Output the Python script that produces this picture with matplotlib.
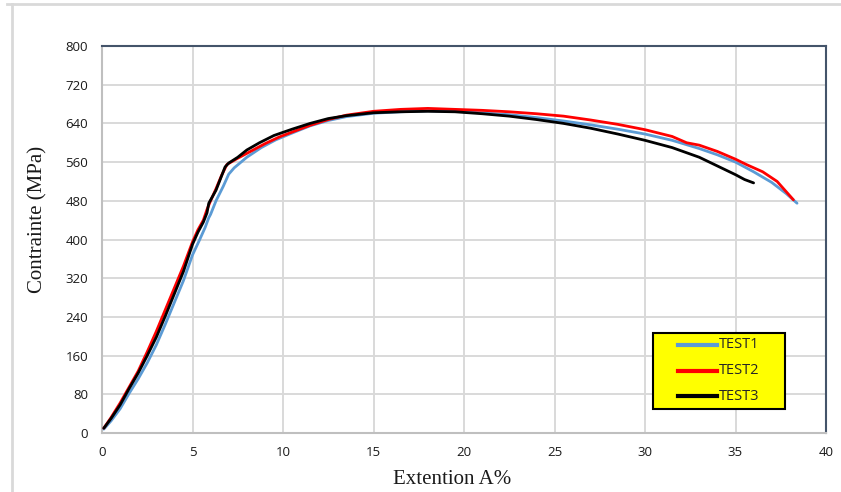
import matplotlib
matplotlib.use("Agg")
import matplotlib.pyplot as plt
from matplotlib.lines import Line2D
from matplotlib.patches import Rectangle

# ---- data ----
test1_x = [0.1, 0.5, 1.0, 1.5, 2.0, 2.5, 3.0, 3.5, 4.0, 4.5, 5.0, 5.4, 5.7, 5.9, 6.0, 6.3, 6.7, 7.0, 7.3,
           8.0, 8.8, 9.6, 10.5, 11.5, 12.5, 13.5, 15.0, 16.5, 18.0, 19.5, 21.0, 22.5, 24.0, 25.5, 27.0,
           28.5, 30.0, 31.5, 33.0, 34.0, 35.0, 36.0, 37.0, 37.8, 38.4]
test1_y = [8, 25, 50, 82, 112, 145, 182, 225, 270, 315, 368, 400, 425, 445, 452, 480, 510, 535, 548,
           570, 590, 606, 620, 635, 646, 654, 661, 664, 666, 665, 662, 658, 652, 645, 637,
           628, 618, 605, 588, 575, 560, 540, 518, 495, 475]

test2_x = [0.1, 0.5, 1.0, 1.5, 2.0, 2.5, 3.0, 3.5, 4.0, 4.5, 5.0, 5.3, 5.6, 5.8, 6.0, 6.3, 6.6, 6.9,
           7.5, 8.2, 9.0, 9.8, 10.5, 11.5, 12.5, 13.5, 15.0, 16.5, 18.0, 19.5, 21.0, 22.5, 24.0,
           25.5, 27.0, 28.5, 30.0, 31.5, 32.3, 33.0, 34.0, 35.0, 35.6, 36.5, 37.3, 38.2]
test2_y = [10, 32, 62, 95, 128, 168, 210, 255, 300, 345, 395, 420, 440, 462, 480, 505, 532, 555,
           568, 582, 598, 612, 622, 636, 648, 657, 665, 669, 671, 669, 667, 664, 660,
           655, 647, 638, 627, 613, 600, 595, 582, 566, 555, 540, 520, 482]

test3_x = [0.1, 0.5, 1.0, 1.5, 2.0, 2.5, 3.0, 3.5, 4.0, 4.5, 5.0, 5.3, 5.6, 5.8, 5.9, 6.3, 6.8, 7.0,
           7.5, 8.0, 8.7, 9.5, 10.5, 11.5, 12.5, 13.5, 15.0, 16.5, 18.0, 19.5, 21.0, 22.5, 24.0,
           25.5, 27.0, 28.5, 30.0, 31.5, 33.0, 34.0, 35.0, 35.5, 36.0]
test3_y = [10, 30, 58, 92, 124, 160, 198, 242, 288, 334, 390, 415, 436, 455, 475, 502, 550, 558,
           570, 585, 600, 615, 628, 640, 650, 656, 662, 664, 665, 664, 660, 655, 648,
           640, 630, 618, 605, 590, 570, 552, 534, 524, 517]

labels = ["TEST1", "TEST2", "TEST3"]
colors = ["#5b9bd5", "#ff0000", "#000000"]

x_ticks = [0, 5, 10, 15, 20, 25, 30, 35, 40]
y_ticks = [0, 80, 160, 240, 320, 400, 480, 560, 640, 720, 800]

# ---- figure ----
W, H = 841, 492
fig = plt.figure(figsize=(W / 100, H / 100), dpi=100)
ax = fig.add_axes([102 / W, 1 - 433 / H, (826 - 102) / W, (433 - 46) / H])

tick_font = "Open Sans"
series = [(test1_x, test1_y), (test2_x, test2_y), (test3_x, test3_y)]
for i, (xs, ys) in enumerate(series):
    ax.plot(xs, ys, color=colors[i], lw=2.0, label=labels[i], solid_capstyle="round", zorder=3 + i)

ax.set_xlim(0, 40)
ax.set_ylim(0, 800)
ax.set_xticks(x_ticks)
ax.set_yticks(y_ticks)
ax.grid(True, color="#d9d9d9", lw=1.4)
ax.set_axisbelow(True)
ax.tick_params(length=0, labelsize=9.5, colors="#1a1a1a")
ax.tick_params(axis="y", pad=10)
ax.tick_params(axis="x", pad=9)
for lab in ax.get_xticklabels() + ax.get_yticklabels():
    lab.set_fontfamily(tick_font)

for s in ["left", "bottom"]:
    ax.spines[s].set_color("#bfbfbf")
    ax.spines[s].set_linewidth(1.5)
for s in ["top", "right"]:
    ax.spines[s].set_color("#44546a")
    ax.spines[s].set_linewidth(1.5)

fig.text(452 / W, 1 - 480 / H, "Extention A%", fontfamily="Liberation Serif", fontsize=15,
         color="#1a1a1a", ha="center", va="center")
fig.text(38 / W, 1 - 219 / H, "Contrainte (MPa)", fontfamily="Liberation Serif", fontsize=15,
         color="#1a1a1a", ha="center", va="center", rotation=90)

# legend (manual, in axes coordinates)
def ax_x(px):
    return (px - 102) / 724

def ax_y(py):
    return (433 - py) / 387

ax.add_patch(Rectangle((ax_x(653), ax_y(409)), ax_x(785) - ax_x(653), ax_y(333) - ax_y(409),
                       transform=ax.transAxes, facecolor="#ffff00", edgecolor="#000000",
                       lw=1.5, zorder=10))
for i, py in enumerate([344.5, 370.5, 396]):
    ax.add_line(Line2D([ax_x(678), ax_x(717)], [ax_y(py), ax_y(py)], transform=ax.transAxes,
                       color=colors[i], lw=3, zorder=11))
    ax.text(ax_x(719), ax_y(py), labels[i], transform=ax.transAxes, fontfamily=tick_font,
            fontsize=10.5, color="#262626", ha="left", va="center", zorder=12)

# figure frame lines (top and left)
fig.add_artist(Line2D([7 / W, 1], [1 - 4 / H, 1 - 4 / H], color="#d9d9d9", lw=2, transform=fig.transFigure))
fig.add_artist(Line2D([12 / W, 12 / W], [0, 1 - 4 / H], color="#d9d9d9", lw=2, transform=fig.transFigure))

fig.savefig("out.png", dpi=100)
